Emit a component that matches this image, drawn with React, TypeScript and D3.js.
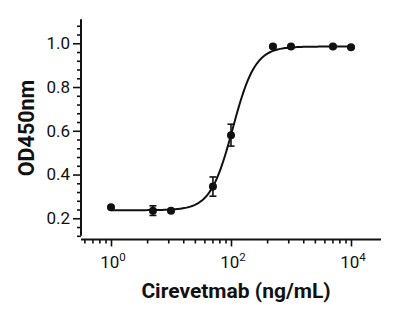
import { useEffect, useRef } from 'react';
import * as d3 from 'd3';

// Cirevetmab dilution series (ng/mL) and mean OD450 readings
const concentrations = [1, 5, 10, 50, 100, 500, 1000, 5000, 10000];
const od450 = [0.25, 0.235, 0.235, 0.345, 0.58, 0.985, 0.985, 0.985, 0.982];
const sd = [0.004, 0.022, 0.006, 0.044, 0.05, 0.006, 0.005, 0.005, 0.005];

// four-parameter logistic fit
const fitBottom = 0.237;
const fitTop = 0.985;
const fitEC50 = 107;
const fitHill = 2.33;

const yMajor = [0.2, 0.4, 0.6, 0.8, 1.0];
const xMajor = [1, 100, 10000];
const xExponents = ['0', '2', '4'];
const xMinor = [0.36, 0.49, 0.64, 0.81, 4, 9, 16, 25, 36, 49, 64, 81, 400, 900, 1600, 2500, 3600, 4900, 6400, 8100];

const W = 415;
const H = 318;
const FONT = 'Roboto, "Noto Sans", sans-serif';
const INK = '#111';

function DoseResponse() {
  const svgRef = useRef<SVGSVGElement>(null);

  useEffect(() => {
    if (!svgRef.current) return;
    const svg = d3.select(svgRef.current);
    svg.selectAll('*').remove();

    const x = d3.scaleLog().domain([Math.pow(10, -0.5), Math.pow(10, 4.5)]).range([81, 381]);
    const y = d3.scaleLinear().domain([0.12, 1.11]).range([235.8, 19.2]);
    const xAxisY = 239.5;
    const yAxisX = 81;

    // y axis
    const yMinor = d3.range(0.12, 1.1001, 0.04).filter(v => !yMajor.some(m => Math.abs(m - v) < 1e-6));
    const gy = svg.append('g').attr('transform', `translate(${yAxisX},0)`);
    gy.append('g')
      .call(d3.axisLeft(y).tickValues(yMinor).tickSize(4).tickSizeOuter(0).tickFormat(() => ''))
      .call(g => g.select('.domain').remove());
    gy.append('g')
      .call(d3.axisLeft(y).tickValues(yMajor).tickSize(8).tickSizeOuter(0).tickPadding(3).tickFormat(d3.format('.1f')))
      .call(g => g.select('.domain').attr('d', `M0,${y(0.12)}V${y(1.11)}`));
    gy.selectAll('line').attr('stroke', INK).attr('stroke-width', 1.6);
    gy.selectAll('path').attr('stroke', INK).attr('stroke-width', 2);
    gy.selectAll('text')
      .attr('font-family', FONT)
      .attr('font-size', 17)
      .attr('fill', INK);

    // x axis
    const gx = svg.append('g').attr('transform', `translate(0,${xAxisY})`);
    gx.append('g')
      .call(d3.axisBottom(x).tickValues(xMinor).tickSize(4).tickSizeOuter(0).tickFormat(() => ''))
      .call(g => g.select('.domain').remove());
    gx.append('g')
      .call(d3.axisBottom(x).tickValues(xMajor).tickSize(7).tickSizeOuter(0).tickFormat(() => ''))
      .call(g => g.select('.domain').attr('d', `M${x.range()[0]},0H${x.range()[1]}`));
    gx.selectAll('line').attr('stroke', INK).attr('stroke-width', 1.6);
    gx.selectAll('path').attr('stroke', INK).attr('stroke-width', 2);

    // power-of-ten labels with superscript exponents
    const labels = svg.append('g')
      .attr('font-family', FONT)
      .attr('fill', INK)
      .selectAll('text')
      .data(xMajor)
      .join('text')
      .attr('x', d => x(d) + 2)
      .attr('y', 268)
      .attr('text-anchor', 'middle')
      .attr('font-size', 17);
    labels.append('tspan').text('10');
    labels.append('tspan')
      .attr('font-size', 11.5)
      .attr('dy', -7.5)
      .text((_, i) => xExponents[i]);

    // axis titles
    svg.append('text')
      .attr('x', 236)
      .attr('y', 298)
      .attr('text-anchor', 'middle')
      .attr('font-family', FONT)
      .attr('font-weight', 700)
      .attr('font-size', 21)
      .attr('fill', INK)
      .text('Cirevetmab (ng/mL)');

    svg.append('text')
      .attr('transform', `translate(34,128) rotate(-90)`)
      .attr('text-anchor', 'middle')
      .attr('font-family', FONT)
      .attr('font-weight', 700)
      .attr('font-size', 21.5)
      .attr('fill', INK)
      .text('OD450nm');

    // fitted curve
    const fit = (c: number) => fitBottom + (fitTop - fitBottom) / (1 + Math.pow(fitEC50 / c, fitHill));
    const curveX = d3.range(0, 4.0001, 0.02).map(e => Math.pow(10, e));
    svg.append('path')
      .datum(curveX)
      .attr('fill', 'none')
      .attr('stroke', INK)
      .attr('stroke-width', 2)
      .attr('d', d3.line<number>().x(c => x(c)).y(c => y(fit(c))));

    const points = concentrations.map((c, i) => ({ c, v: od450[i], e: sd[i] }));

    // error bars
    const bars = svg.append('g').attr('stroke', INK).attr('stroke-width', 1.6);
    bars.selectAll('line.v')
      .data(points)
      .join('line')
      .attr('class', 'v')
      .attr('x1', d => x(d.c))
      .attr('x2', d => x(d.c))
      .attr('y1', d => y(d.v - d.e))
      .attr('y2', d => y(d.v + d.e));
    bars.selectAll('line.cap')
      .data(points.flatMap(d => [{ c: d.c, v: d.v - d.e }, { c: d.c, v: d.v + d.e }]))
      .join('line')
      .attr('class', 'cap')
      .attr('x1', d => x(d.c) - 3.5)
      .attr('x2', d => x(d.c) + 3.5)
      .attr('y1', d => y(d.v))
      .attr('y2', d => y(d.v));

    // mean markers
    svg.append('g')
      .selectAll('circle')
      .data(points)
      .join('circle')
      .attr('cx', d => x(d.c))
      .attr('cy', d => y(d.v))
      .attr('r', 4)
      .attr('fill', INK);
  }, []);

  return (
    <svg
      ref={svgRef}
      width={W}
      height={H}
      style={{ position: 'absolute', left: 0, top: 0, background: '#fff' }}
    />
  );
}

export default function App() {
  return <DoseResponse />;
}
